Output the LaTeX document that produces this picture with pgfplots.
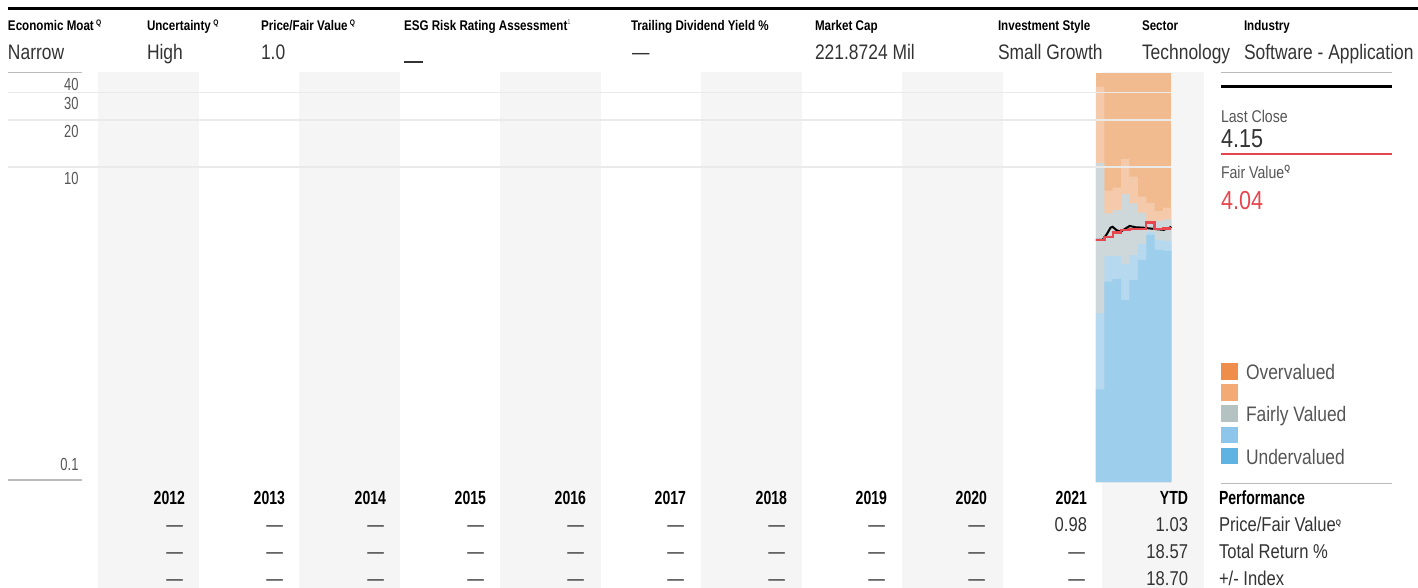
\documentclass[border=0pt]{standalone}
\usepackage{fontspec}
\setmainfont{Liberation Sans}[FakeStretch=0.83]
\newfontfamily\yf{Liberation Sans}[FakeStretch=0.74]
\usepackage{pgfplots}
\pgfplotsset{compat=1.18}
\definecolor{bandgray}{HTML}{F5F5F5}
\definecolor{orA}{HTML}{F2BA8F}
\definecolor{orB}{HTML}{F5CAAB}
\definecolor{grF}{HTML}{CED8DA}
\definecolor{blB}{HTML}{B7D9F0}
\definecolor{blA}{HTML}{9DCEEB}
\definecolor{legOver}{HTML}{EF8E4A}
\definecolor{legOverL}{HTML}{F3AA75}
\definecolor{legFair}{HTML}{B4C2C2}
\definecolor{legUndL}{HTML}{8DC6EA}
\definecolor{legUnd}{HTML}{5EB3E3}
\definecolor{fvred}{HTML}{E8464E}
\definecolor{gridc}{HTML}{EAEAEA}
\definecolor{framec}{HTML}{BBBBBB}
\definecolor{txtg}{HTML}{555555}
\definecolor{valg}{HTML}{333333}
\newcommand{\fs}[1]{\fontsize{#1}{#1}\selectfont}
\newcommand{\Qi}{\,{\fs{8}\bfseries\raisebox{5pt}{Q}}}
\begin{document}
\begin{tikzpicture}
\useasboundingbox (0,0) rectangle (1418pt,-588pt);
\begin{scope}[x=1pt,y=-1pt]
  % alternating column bands
  \fill[bandgray] (98,72) rectangle (199,588);
  \fill[bandgray] (299,72) rectangle (400,588);
  \fill[bandgray] (500,72) rectangle (601,588);
  \fill[bandgray] (701,72) rectangle (802,588);
  \fill[bandgray] (902,72) rectangle (1003,588);
  \fill[bandgray] (1102,72) rectangle (1204,588);
  \draw[line width=3pt,black] (8,8.7) -- (1418,8.7);
\end{scope}
\begin{axis}[at={(0pt,-480pt)}, anchor=south west, scale only axis,
  width=1418pt, height=407.2pt,
  xmin=2011.02536, xmax=2025.1278, ymode=log, ymin=0.1, ymax=40,
  hide axis, clip=false]
  % valuation bands (monthly steps)
  \addplot[fill=orA, draw=none] coordinates {(2021.925,0.097) (2021.925,40) (2022.675,40) (2022.675,0.097)};
  \addplot[const plot, fill=orB, draw=none] coordinates {(2021.925,0.097) (2021.925,32.6) (2022.0083,7.06) (2022.0917,7.38) (2022.175,11.25) (2022.2583,8.67) (2022.3417,6.46) (2022.425,5.91) (2022.5083,5.23) (2022.5917,5.50) (2022.675,5.50) (2022.675,0.097)};
  \addplot[const plot, fill=grF, draw=none] coordinates {(2021.925,0.097) (2021.925,10.6) (2022.0083,5.06) (2022.0917,5.31) (2022.175,6.72) (2022.2583,5.86) (2022.3417,5.11) (2022.425,4.52) (2022.5083,4.52) (2022.5917,4.63) (2022.675,4.63) (2022.675,0.097)};
  \addplot[const plot, fill=blB, draw=none] coordinates {(2021.925,0.097) (2021.925,1.16) (2022.0083,2.71) (2022.0917,2.71) (2022.175,2.40) (2022.2583,2.74) (2022.3417,3.22) (2022.425,3.84) (2022.5083,3.42) (2022.5917,3.37) (2022.675,3.37) (2022.675,0.097)};
  \addplot[const plot, fill=blA, draw=none] coordinates {(2021.925,0.097) (2021.925,0.38) (2022.0083,1.85) (2022.0917,1.93) (2022.175,1.41) (2022.2583,1.90) (2022.3417,2.55) (2022.425,3.68) (2022.5083,2.95) (2022.5917,2.91) (2022.675,2.91) (2022.675,0.097)};
  % grid lines
  \draw[gridc, line width=1.3pt] (axis cs:2011.1049,30) -- (axis cs:2022.675,30);
  \draw[gridc, line width=1.3pt] (axis cs:2011.1049,20) -- (axis cs:2022.675,20);
  \draw[gridc, line width=1.3pt] (axis cs:2011.1049,10) -- (axis cs:2022.675,10);
  \draw[framec, line width=1.2pt] (axis cs:2011.1049,40) -- (axis cs:2011.8409,40);
  \draw[framec, line width=1.2pt] (axis cs:2011.1049,0.1) -- (axis cs:2011.8409,0.1);
  % last close
  \addplot[black, line width=2pt] coordinates {(2021.925,3.42) (2021.99,3.42) (2022.03,3.7) (2022.07,4.1) (2022.09,4.15) (2022.13,3.95) (2022.17,3.86) (2022.22,4.05) (2022.26,4.2) (2022.32,4.12) (2022.39,4.1) (2022.46,4.05) (2022.54,4.0) (2022.6,3.97) (2022.64,4.05) (2022.675,4.15)};
  % fair value
  \addplot[const plot, fvred, line width=2.3pt] coordinates {(2021.925,3.40) (2022.0083,3.59) (2022.0917,3.82) (2022.175,3.96) (2022.2583,4.02) (2022.3417,4.02) (2022.425,4.43) (2022.5083,4.0) (2022.5917,4.04) (2022.675,4.04)};
  % y tick labels
  \begin{scope}[every node/.style={anchor=base east, text=txtg, font=\yf\fs{17.5}}]
  \node[yshift=-17.3pt] at (axis cs:2011.8409,40) {40};
  \node[yshift=-17.3pt] at (axis cs:2011.8409,30) {30};
  \node[yshift=-17.3pt] at (axis cs:2011.8409,20) {20};
  \node[yshift=-17.3pt] at (axis cs:2011.8409,10) {10};
  \node[yshift=10pt] at (axis cs:2011.8409,0.1) {0.1};
  \end{scope}
\end{axis}
\begin{scope}[x=1pt,y=-1pt, inner sep=0pt, outer sep=0pt]
  % header
  \begin{scope}[every node/.style={anchor=base west, font=\fs{14}\bfseries}]
  \node at (8,30.7) {Economic Moat\Qi};
  \node at (147,30.7) {Uncertainty\Qi};
  \node at (261,30.7) {Price/Fair Value\Qi};
  \node at (404,30.7) {ESG Risk Rating Assessment{\fs{7}\mdseries\raisebox{6pt}{\textcolor{txtg}{1}}}};
  \node at (631,30.7) {Trailing Dividend Yield \%};
  \node at (815,30.7) {Market Cap};
  \node at (998,30.7) {Investment Style};
  \node at (1142,30.7) {Sector};
  \node at (1244,30.7) {Industry};
  \end{scope}
  \begin{scope}[every node/.style={anchor=base west, font=\fs{21}, text=valg}]
  \node at (8,59.5) {Narrow};
  \node at (147,59.5) {High};
  \node at (261,59.5) {1.0};
  \node at (632,59.5) {—};
  \node at (815,59.5) {221.8724 Mil};
  \node at (998,59.5) {Small Growth};
  \node at (1142,59.5) {Technology};
  \node at (1244,59.5) {Software - Application};
  \end{scope}
  \fill[valg] (404,61.5) rectangle (423,62.7);
  % right legend panel
  \draw[framec, line width=1.2pt] (1221,72.7) -- (1392,72.7);
  \draw[black, line width=2.6pt] (1221,86.7) -- (1392,86.7);
  \draw[fvred, line width=2.4pt] (1221,154) -- (1392,154);
  \draw[framec, line width=1.2pt] (1221,483.3) -- (1392,483.3);
  \node[anchor=base west, font=\fs{17}, text=txtg] at (1221,122.3) {Last Close};
  \node[anchor=base west, font=\fs{26}, text=valg] at (1221,147.3) {4.15};
  \node[anchor=base west, font=\fs{17}, text=txtg] at (1221,178.3) {Fair Value{\fs{9}\bfseries\raisebox{7pt}{Q}}};
  \node[anchor=base west, font=\fs{26}, text=fvred] at (1221,209) {4.04};
  \fill[legOver]  (1221,363)   rectangle (1237.7,379.7);
  \fill[legOverL] (1221,384)   rectangle (1237.7,400.7);
  \fill[legFair]  (1221,405)   rectangle (1237.7,421.7);
  \fill[legUndL]  (1221,426.7) rectangle (1237.7,443.4);
  \fill[legUnd]   (1221,447.7) rectangle (1237.7,464.4);
  \node[anchor=base west, font=\fs{21}, text=txtg] at (1246,379.3) {Overvalued};
  \node[anchor=base west, font=\fs{21}, text=txtg] at (1246,421.7) {Fairly Valued};
  \node[anchor=base west, font=\fs{21}, text=txtg] at (1246,464.3) {Undervalued};
  % performance table
  \begin{scope}[every node/.style={anchor=base east, font=\yf\fs{19}\bfseries}]
  \node at (185,504) {2012};
  \node at (285,504) {2013};
  \node at (386,504) {2014};
  \node at (486,504) {2015};
  \node at (586,504) {2016};
  \node at (686,504) {2017};
  \node at (787,504) {2018};
  \node at (887,504) {2019};
  \node at (987,504) {2020};
  \node at (1087,504) {2021};
  \node at (1188,504) {YTD};
  \end{scope}
  \node[anchor=base west, font=\yf\fs{19}\bfseries] at (1219,504) {Performance};
  \begin{scope}[every node/.style={anchor=base east, font=\fs{20}, text=valg}]
  \foreach \r in {531,558,585} {
    \foreach \c in {183,283,384,484,584,684,785,885,985} {
      \node at (\c,\r) {—};
    }
  }
  \node at (1087,531) {0.98};
  \node at (1085,558) {—};
  \node at (1085,585) {—};
  \node at (1188,531) {1.03};
  \node at (1188,558) {18.57};
  \node at (1188,585) {18.70};
  \end{scope}
  \begin{scope}[every node/.style={anchor=base west, font=\fs{20}, text=valg}]
  \node at (1219,531) {Price/Fair Value{\fs{8}\bfseries\raisebox{6pt}{Q}}};
  \node at (1219,558) {Total Return \%};
  \node at (1219,585) {+/- Index};
  \end{scope}
\end{scope}
\end{tikzpicture}
\end{document}
